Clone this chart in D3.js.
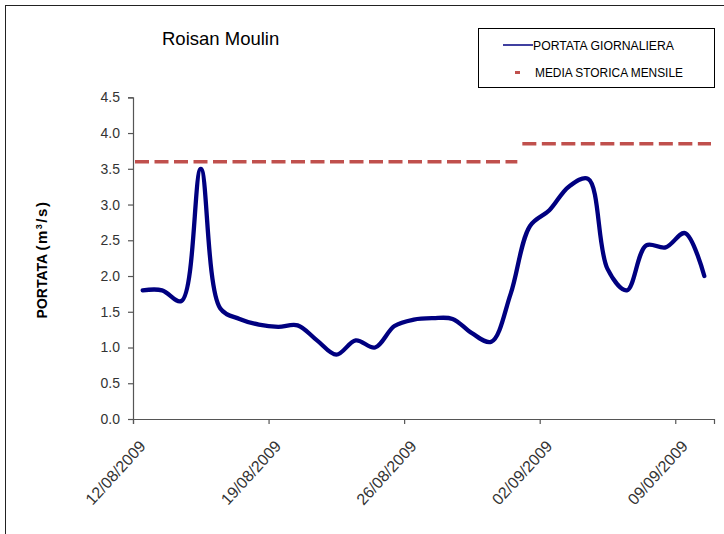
<!DOCTYPE html>
<html>
<head>
<meta charset="utf-8">
<script src="https://cdn.jsdelivr.net/npm/d3@7/dist/d3.min.js"></script>
<style>
  html, body { margin: 0; padding: 0; background: #fff; }
  svg { display: block; }
  text { font-family: "Liberation Sans", Arial, sans-serif; }
</style>
</head>
<body>
<div id="chart"></div>
<script>
// ---- data ----
const startDate = "2009-08-12";
const dailyFlow = [1.8, 1.8, 1.65, 3.5, 1.55, 1.4, 1.32, 1.29, 1.31, 1.1,
                   0.9, 1.1, 1.0, 1.3, 1.39, 1.41, 1.4, 1.2, 1.08, 1.75,
                   2.7, 2.92, 3.25, 3.36, 2.1, 1.8, 2.43, 2.4, 2.6, 2.0];
const meanPeriods = [["2009-08-12", "2009-09-01"], ["2009-09-01", "2009-09-11"]];
const meanValues = [3.6, 3.85];
const yTicks = [0, 0.5, 1.0, 1.5, 2.0, 2.5, 3.0, 3.5, 4.0, 4.5];
const xTickDates = ["2009-08-12", "2009-08-19", "2009-08-26", "2009-09-02", "2009-09-09"];
const xTickLabels = ["12/08/2009", "19/08/2009", "26/08/2009", "02/09/2009", "09/09/2009"];
const axisDomain = ["2009-08-12", "2009-09-11"];
const title = "Roisan Moulin";
const yLabel = "PORTATA";
const yUnit = ["(m", "3", "/s)"];
const legendLabels = ["PORTATA GIORNALIERA", "MEDIA STORICA MENSILE"];

// ---- setup ----
const W = 724, H = 534;
const parse = d3.timeParse("%Y-%m-%d");
const svg = d3.select("#chart").append("svg").attr("width", W).attr("height", H);
svg.append("rect").attr("width", W).attr("height", H).attr("fill", "#fff");
svg.append("rect").attr("x", 5.5).attr("y", 5.5).attr("width", 900).attr("height", 900)
  .attr("fill", "none").attr("stroke", "#222").attr("stroke-width", 1);

const x = d3.scaleTime().domain(axisDomain.map(parse)).range([133, 714]);
const y = d3.scaleLinear().domain([0, 4.5]).range([419, 97.3]);
const t0 = parse(startDate);
const pts = dailyFlow.map((v, i) => ({ date: d3.timeHour.offset(d3.timeDay.offset(t0, i), 12), v }));

// axes
const yAxis = svg.append("g").attr("transform", "translate(133,0)")
  .call(d3.axisLeft(y).tickValues(yTicks).tickFormat(d3.format(".1f")).tickSize(5).tickPadding(8));
const xAxis = svg.append("g").attr("transform", "translate(0,419)")
  .call(d3.axisBottom(x).tickValues(xTickDates.map(parse))
    .tickFormat((d, i) => xTickLabels[i]).tickSize(5));
[yAxis, xAxis].forEach(g => {
  g.select(".domain").attr("stroke", "#555").attr("stroke-width", 1.2);
  g.selectAll(".tick line").attr("stroke", "#555").attr("stroke-width", 1.2);
  g.selectAll("text").attr("fill", "#333").style("font-size", "14px");
});
xAxis.selectAll("text")
  .style("font-size", "16px")
  .attr("text-anchor", "end").attr("dy", null).attr("y", null)
  .attr("transform", "translate(13,28) rotate(-47.5)");

// mean lines
const meanLine = d3.line().x(d => d[0]).y(d => d[1]);
meanPeriods.forEach((p, i) => {
  const a = x(parse(p[0])) + 2, b = x(parse(p[1])) - 3;
  svg.append("path").attr("d", meanLine([[a, y(meanValues[i])], [b, y(meanValues[i])]]))
    .attr("fill", "none").attr("stroke", "#C0504D").attr("stroke-width", 3.5)
    .attr("stroke-dasharray", "14,5.5");
});

// daily flow line
svg.append("path").datum(pts)
  .attr("d", d3.line().x(d => x(d.date)).y(d => y(d.v)).curve(d3.curveCatmullRom.alpha(0.5)))
  .attr("fill", "none").attr("stroke", "#000080").attr("stroke-width", 4.3)
  .attr("stroke-linejoin", "round").attr("stroke-linecap", "round");

// title
svg.append("text").attr("x", 162).attr("y", 45).text(title)
  .style("font-size", "18.5px").attr("fill", "#000");

// y label
const yl = svg.append("text").attr("transform", "translate(47,259.5) rotate(-90)")
  .attr("text-anchor", "middle").style("font-size", "14px").style("font-weight", "bold").attr("fill", "#000");
yl.append("tspan").text(yLabel + " ");
const u = yl.append("tspan").style("letter-spacing", "1.5px").style("font-size", "15px");
u.append("tspan").text(yUnit[0]);
u.append("tspan").text(yUnit[1]).attr("dy", -5).style("font-size", "9px");
u.append("tspan").text(yUnit[2]).attr("dy", 5);

// legend
const lg = svg.append("g");
lg.append("rect").attr("x", 478.5).attr("y", 28.5).attr("width", 236).attr("height", 59)
  .attr("fill", "#fff").attr("stroke", "#000").attr("stroke-width", 1);
lg.append("line").attr("x1", 503).attr("x2", 533).attr("y1", 45).attr("y2", 45)
  .attr("stroke", "#000080").attr("stroke-width", 1.5);
lg.append("line").attr("x1", 515).attr("x2", 520).attr("y1", 72.5).attr("y2", 72.5)
  .attr("stroke", "#C0504D").attr("stroke-width", 3);
lg.append("text").attr("x", 533).attr("y", 49.5).text(legendLabels[0])
  .style("font-size", "12px").attr("textLength", 141).attr("lengthAdjust", "spacingAndGlyphs");
lg.append("text").attr("x", 535).attr("y", 77).text(legendLabels[1])
  .style("font-size", "12px").attr("textLength", 148).attr("lengthAdjust", "spacingAndGlyphs");
</script>
</body>
</html>
